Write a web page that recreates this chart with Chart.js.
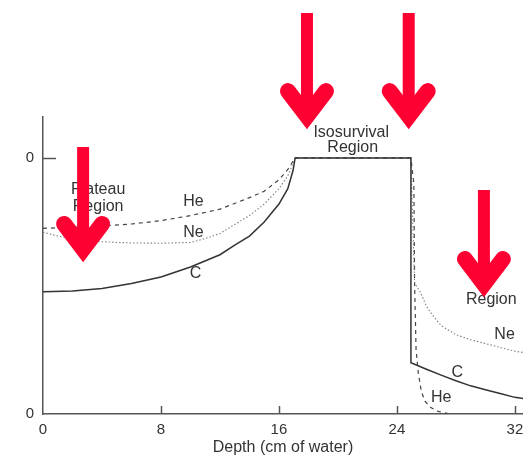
<!DOCTYPE html>
<html><head><meta charset="utf-8">
<script src="https://cdn.jsdelivr.net/npm/chart.js@4/dist/chart.umd.min.js"></script>
<style>html,body{margin:0;padding:0;background:#fff;} #wrap{width:523px;height:457px;position:relative;}</style>
</head><body><div id="wrap"><canvas id="c" width="523" height="457"></canvas></div>
<script>
// ---- data ----
const xTicks = [0, 8, 16, 24, 32];
const yTicks = [0, 1];
const yTickLabels = ['0', '0'];
const xTitle = 'Depth (cm of water)';

const cDepth    = [0, 2, 4, 6, 8, 10, 12, 13, 14, 15, 16, 16.6, 16.95, 17.1, 24.95, 24.95, 26, 27, 28, 29, 30, 31, 32, 32.6];
const cSurvival = [0.477, 0.48, 0.49, 0.51, 0.535, 0.574, 0.622, 0.66, 0.695, 0.75, 0.82, 0.88, 0.95, 1.0, 1.0, 0.2, 0.175, 0.152, 0.13, 0.11, 0.095, 0.08, 0.065, 0.06];

const neDepth    = [0, 1, 2, 3, 4, 6, 8, 10, 11, 12, 13, 14, 15, 16, 16.6, 17.1, 24.95, 25.1, 25.2, 25.6, 26, 26.5, 27, 28, 29, 30, 31, 32, 32.6];
const neSurvival = [0.71, 0.695, 0.685, 0.678, 0.673, 0.668, 0.667, 0.67, 0.685, 0.705, 0.74, 0.775, 0.82, 0.88, 0.93, 1.0, 1.0, 0.7, 0.51, 0.475, 0.42, 0.38, 0.345, 0.31, 0.29, 0.275, 0.26, 0.245, 0.24];

const heDepth    = [0, 2, 4, 6, 8, 10, 12, 14, 15, 16, 16.6, 17.1, 24.95, 25.15, 25.2, 25.3, 25.45, 25.65, 25.9, 26.3, 26.8, 27.6];
const heSurvival = [0.725, 0.73, 0.735, 0.742, 0.755, 0.775, 0.8, 0.845, 0.87, 0.915, 0.955, 1.0, 1.0, 0.9, 0.5, 0.25, 0.16, 0.09, 0.05, 0.025, 0.01, 0.0];

const noteTexts = ['He', 'Ne', 'C', 'Plateau', 'Region', 'Isosurvival', 'Region', 'Region', 'Ne', 'C', 'He'];
const noteX     = [10.2, 10.2, 10.34, 3.74, 3.74, 20.9, 21.0, 30.4, 31.3, 28.1, 27.0];
const noteY     = [0.828, 0.707, 0.547, 0.875, 0.809, 1.10, 1.04, 0.445, 0.309, 0.16, 0.0625];

const arrowX   = [2.72, 17.9, 24.8, 29.9];
const arrowTop = [1.043, 1.566, 1.566, 0.875];
const arrowTip = [0.59, 1.109, 1.109, 0.453];

// ---- build ----
const pts = (xs, ys) => xs.map((x, i) => ({x: x, y: ys[i]}));
const FONT = '"Liberation Sans", Arial, Helvetica, sans-serif';
const TEXT = '#333';
const AXIS = '#555';

const decor = {
  id: 'decor',
  afterDatasetsDraw(chart) {
    const ctx = chart.ctx;
    const xs = chart.scales.x, ys = chart.scales.y;
    const a = chart.chartArea;
    ctx.save();
    // inward tick marks
    ctx.strokeStyle = AXIS; ctx.lineWidth = 1.5;
    xTicks.forEach(v => {
      if (v === 0) return;
      const px = Math.round(xs.getPixelForValue(v)) + 0.5;
      ctx.beginPath(); ctx.moveTo(px, a.bottom); ctx.lineTo(px, a.bottom - 8); ctx.stroke();
    });
    yTicks.forEach(v => {
      if (v === 0) return;
      const py = Math.round(ys.getPixelForValue(v)) + 0.5;
      ctx.beginPath(); ctx.moveTo(a.left, py); ctx.lineTo(a.left + 13, py); ctx.stroke();
    });
    // annotation text
    ctx.fillStyle = TEXT;
    ctx.font = '16px ' + FONT;
    ctx.textAlign = 'center'; ctx.textBaseline = 'middle';
    noteTexts.forEach((t, i) => {
      ctx.fillText(t, xs.getPixelForValue(noteX[i]), ys.getPixelForValue(noteY[i]));
    });
    // red arrows
    ctx.strokeStyle = '#ff0033';
    arrowX.forEach((ax, i) => {
      const x = xs.getPixelForValue(ax);
      const top = ys.getPixelForValue(arrowTop[i]);
      const tip = ys.getPixelForValue(arrowTip[i]);
      ctx.lineWidth = 12;
      ctx.lineCap = 'butt';
      ctx.beginPath(); ctx.moveTo(x, top); ctx.lineTo(x, tip - 16); ctx.stroke();
      ctx.lineWidth = 16;
      ctx.lineCap = 'round'; ctx.lineJoin = 'miter'; ctx.miterLimit = 10;
      ctx.beginPath();
      ctx.moveTo(x - 19, tip - 39);
      ctx.lineTo(x, tip - 14);
      ctx.lineTo(x + 19, tip - 39);
      ctx.stroke();
    });
    ctx.restore();
  }
};

new Chart(document.getElementById('c'), {
  type: 'line',
  data: {
    datasets: [
      {label: 'C', data: pts(cDepth, cSurvival), borderColor: '#333', borderWidth: 1.5, pointRadius: 0, tension: 0, fill: false},
      {label: 'Ne', data: pts(neDepth, neSurvival), borderColor: '#808080', borderWidth: 1.1, borderDash: [1.5, 2], pointRadius: 0, tension: 0, fill: false},
      {label: 'He', data: pts(heDepth, heSurvival), borderColor: '#444', borderWidth: 1.2, borderDash: [4, 4], pointRadius: 0, tension: 0, fill: false}
    ]
  },
  options: {
    responsive: false,
    animation: false,
    layout: {padding: {top: 117, right: 0, left: 0, bottom: 0}},
    plugins: {legend: {display: false}, tooltip: {enabled: false}},
    scales: {
      x: {
        type: 'linear', min: 0, max: 32.55,
        afterBuildTicks: s => { s.ticks = xTicks.map(v => ({value: v})); },
        afterFit: s => { s.height = 43; s.paddingLeft = 0; s.paddingRight = 0; },
        grid: {display: false, drawTicks: false},
        border: {display: true, color: AXIS, width: 1.5},
        ticks: {padding: 7, color: TEXT, font: {size: 15, family: FONT}, maxRotation: 0, autoSkip: false},
        title: {display: true, text: xTitle, color: TEXT, font: {size: 16, family: FONT}, padding: {top: 0, bottom: 0}}
      },
      y: {
        type: 'linear', min: 0, max: 1.16,
        afterBuildTicks: s => { s.ticks = yTicks.map(v => ({value: v})); },
        afterFit: s => { s.width = 43; s.paddingTop = 0; s.paddingBottom = 0; },
        grid: {display: false, drawTicks: false},
        border: {display: true, color: AXIS, width: 1.5},
        ticks: {padding: 9, color: TEXT, font: {size: 15, family: FONT}, callback: (v, i) => yTickLabels[i]}
      }
    }
  },
  plugins: [decor]
});
</script>
</body></html>
